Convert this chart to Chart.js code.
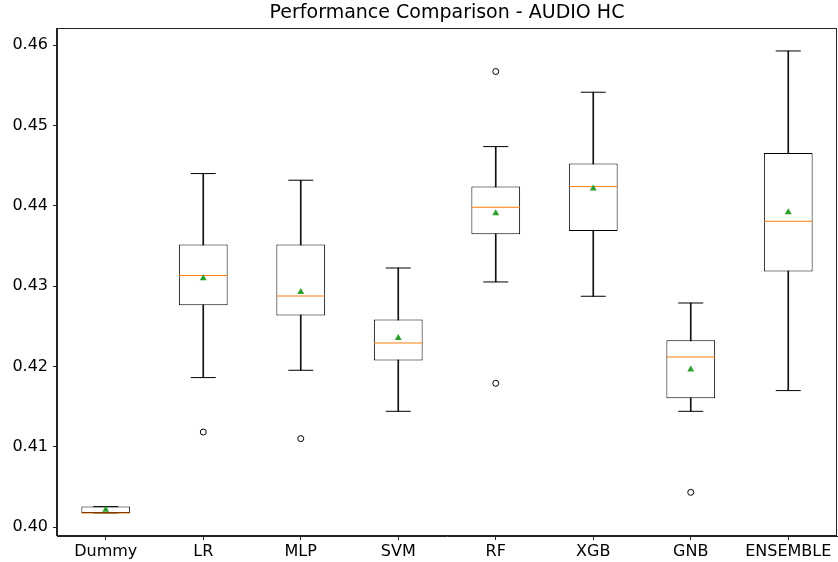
<!DOCTYPE html>
<html>
<head>
<meta charset="utf-8">
<script src="https://cdn.jsdelivr.net/npm/chart.js@4/dist/chart.umd.min.js"></script>
<style>
  html, body { margin: 0; padding: 0; background: #fff; }
  #wrap { width: 838px; height: 562px; }
</style>
</head>
<body>
<div id="wrap"><canvas id="c" width="838" height="562"></canvas></div>
<script>
const categories = ["Dummy", "LR", "MLP", "SVM", "RF", "XGB", "GNB", "ENSEMBLE"];
const whiskerLo = [0.40174, 0.41861, 0.41952, 0.41441, 0.43052, 0.42874, 0.41441, 0.41699];
const q1        = [0.40174, 0.42762, 0.42633, 0.42073, 0.43646, 0.43687, 0.41603, 0.43181];
const medians   = [0.40174, 0.43132, 0.42877, 0.42292, 0.43982, 0.44240, 0.42118, 0.43808];
const q3        = [0.40254, 0.43518, 0.43518, 0.42583, 0.44240, 0.44527, 0.42326, 0.44659];
const whiskerHi = [0.40254, 0.44402, 0.44319, 0.43226, 0.44738, 0.45415, 0.42790, 0.45929];
const means     = [0.40214, 0.43098, 0.42927, 0.42354, 0.43908, 0.44215, 0.41961, 0.43920];
const outlierCats = ["LR", "MLP", "RF", "RF", "GNB"];
const outlierVals = [0.41183, 0.41101, 0.45673, 0.41790, 0.40432];
const yTicks = [0.40, 0.41, 0.42, 0.43, 0.44, 0.45, 0.46];
const titleText = "Performance Comparison - AUDIO HC";

const FONT = "'DejaVu Sans', sans-serif";

const framePlugin = {
  id: 'frame',
  afterDatasetsDraw(chart) {
    const a = chart.chartArea, ctx = chart.ctx;
    ctx.save();
    ctx.strokeStyle = '#222';
    ctx.lineWidth = 1;
    ctx.strokeRect(Math.round(a.left) - 0.5, Math.round(a.top) + 0.5,
                   Math.round(a.right) - Math.round(a.left), Math.round(a.bottom) - Math.round(a.top) - 1);
    ctx.restore();
  }
};

new Chart(document.getElementById('c'), {
  type: 'bar',
  data: {
    labels: categories,
    datasets: [
      {
        type: 'bar', label: 'whiskers',
        data: categories.map((c, i) => [whiskerLo[i], whiskerHi[i]]),
        backgroundColor: '#111', borderWidth: 0,
        barThickness: 1, grouped: false, order: 6
      },
      {
        type: 'bar', label: 'boxes',
        data: categories.map((c, i) => [q1[i], q3[i]]),
        backgroundColor: '#fff', borderColor: '#000', borderWidth: 1,
        borderSkipped: false, barPercentage: 0.5, categoryPercentage: 1,
        grouped: false, order: 5
      },
      {
        type: 'line', label: 'capsLo', data: whiskerLo, showLine: false,
        pointStyle: 'line', pointRadius: 12.5, borderColor: '#000', borderWidth: 1,
        pointBorderColor: '#000', pointBorderWidth: 1, order: 4
      },
      {
        type: 'line', label: 'capsHi', data: whiskerHi, showLine: false,
        pointStyle: 'line', pointRadius: 12.5, borderColor: '#000', borderWidth: 1,
        pointBorderColor: '#000', pointBorderWidth: 1, order: 4
      },
      {
        type: 'line', label: 'median', data: medians, showLine: false,
        pointStyle: 'line', pointRadius: 24.4, borderColor: '#ff7f0e', borderWidth: 1,
        pointBorderColor: '#ff7f0e', pointBorderWidth: 1, order: 3
      },
      {
        type: 'line', label: 'mean', data: means, showLine: false,
        pointStyle: 'triangle', pointRadius: 4, pointBackgroundColor: '#2ca02c',
        pointBorderColor: '#2ca02c', pointBorderWidth: 0, order: 2
      },
      {
        type: 'line', label: 'outliers',
        data: outlierCats.map((c, i) => ({ x: c, y: outlierVals[i] })),
        showLine: false, pointStyle: 'circle', pointRadius: 3,
        pointBackgroundColor: '#fff', pointBorderColor: '#000', pointBorderWidth: 1, order: 1
      }
    ]
  },
  options: {
    responsive: false,
    animation: false,
    events: [],
    layout: { autoPadding: false, padding: { left: 0, right: 1, top: 0, bottom: 0 } },
    plugins: {
      legend: { display: false },
      tooltip: { enabled: false },
      title: {
        display: true, text: titleText, color: '#000', fullSize: false,
        font: { family: FONT, size: 19, weight: 'normal', lineHeight: 1.2 },
        padding: { top: 2, bottom: 3.2 }
      }
    },
    scales: {
      x: {
        offset: true,
        afterFit(scale) { scale.height = 26; scale.paddingLeft = 0; scale.paddingRight = 0; },
        grid: { display: true, offset: false, drawOnChartArea: false, drawTicks: true, tickLength: 4, color: '#222' },
        border: { display: true, color: '#222' },
        ticks: { color: '#000', font: { family: FONT, size: 16 }, padding: 2, maxRotation: 0, autoSkip: false }
      },
      y: {
        min: 0.39888, max: 0.46215,
        afterFit(scale) { scale.width = 57; scale.paddingTop = 0; scale.paddingBottom = 0; },
        afterBuildTicks(scale) { scale.ticks = yTicks.map(v => ({ value: v })); },
        grid: { display: true, drawOnChartArea: false, drawTicks: true, tickLength: 4, color: '#222' },
        border: { display: true, color: '#222' },
        ticks: { color: '#000', font: { family: FONT, size: 16 }, padding: 5,
                 callback: v => Number(v).toFixed(2) }
      }
    }
  },
  plugins: [framePlugin]
});
</script>
</body>
</html>
